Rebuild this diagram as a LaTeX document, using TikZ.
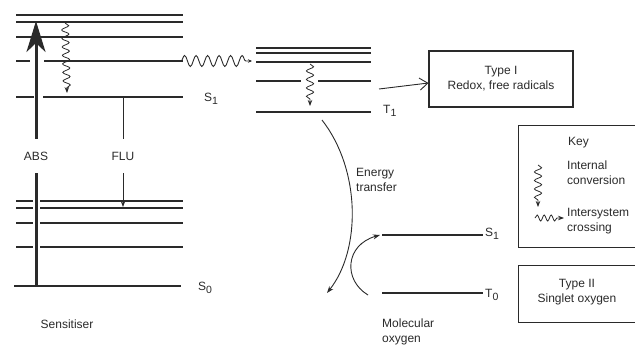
\documentclass[tikz,border=0pt]{standalone}
\usepackage{fontspec}
\setmainfont{Liberation Sans}
\usetikzlibrary{arrows.meta,decorations.pathmorphing}
\definecolor{ink}{HTML}{2A2A2A}
\newcommand{\lowsub}[1]{\raisebox{-3.5pt}{\fontsize{10.5}{10.5}\selectfont #1}}
\tikzset{
  level/.style={draw=ink, line width=1.1pt},
  lbl/.style={inner sep=0pt, font=\fontsize{12}{15}\selectfont, text=ink},
  ictip/.style={-{Stealth[length=6pt,width=4.5pt]}},
  icwave/.style={draw=ink, line width=0.8pt, decorate,
    decoration={snake, amplitude=3.6pt, segment length=8.5pt, post length=5pt}},
  iscwave/.style={draw=ink, line width=0.9pt, decorate,
    decoration={snake, amplitude=5.5pt, segment length=11.5pt, post length=6pt}},
  conn/.style={draw=ink, line width=0.9pt},
  boxed/.style={draw=ink, line width=1.1pt, inner sep=0pt, align=center,
    font=\fontsize{12}{15}\selectfont, text=ink}
}
\begin{document}
\begin{tikzpicture}[x=1pt,y=-1pt]
\useasboundingbox (0,0) rectangle (635,346);
\clip (0,0) rectangle (635,346);

% ---- Sensitiser levels ----
\draw[level] (16,15) -- (183,15);
\draw[level] (16,22) -- (183,22);
\draw[level] (16,37) -- (183,37);
\draw[level] (16,61) -- (30,61);  \draw[level] (44,61) -- (183,61);
\draw[level] (16,97) -- (34,97);  \draw[level] (43,97) -- (183,97);
\draw[level] (16,201) -- (33,201); \draw[level] (40,201) -- (183,201);
\draw[level] (16,208) -- (33,208); \draw[level] (40,208) -- (183,208);
\draw[level] (16,223) -- (33,223); \draw[level] (40,223) -- (183,223);
\draw[level] (16,247) -- (33,247); \draw[level] (40,247) -- (183,247);
\draw[level] (14,286) -- (181,286);

% ---- Triplet levels of sensitiser ----
\draw[level] (256,48) -- (371,48);
\draw[level] (256,53) -- (371,53);
\draw[level] (256,62) -- (371,62);
\draw[level] (256,81) -- (301,81); \draw[level] (318,81) -- (371,81);
\draw[level] (256,112) -- (371,112);

% ---- Oxygen levels ----
\draw[level] (382,235) -- (483,235);
\draw[level] (382,293) -- (483,293);

% ---- Labels ----
\node[lbl, anchor=west] (s1) at (204,99) {S\lowsub{1}};
\node[lbl, anchor=west] (t1) at (383,111) {T\lowsub{1}};
\node[lbl, anchor=west] (s0) at (198,288) {S\lowsub{0}};
\node[lbl, anchor=west] (os1) at (485,234) {S\lowsub{1}};
\node[lbl, anchor=west] (ot0) at (485,295) {T\lowsub{0}};
\node[lbl] (sens) at (67,324) {Sensitiser};
\node[lbl, anchor=west, align=left] (et) at (356,180) {Energy\\transfer};
\node[lbl, anchor=west, align=left] (mo) at (382,332) {Molecular\\oxygen};

% ---- ABS ----
\coordinate (absbot) at (36,286);
\coordinate (abstop) at (36,21);
\node[lbl, inner ysep=13pt, inner xsep=0pt] (abs) at (36,156) {ABS};
\draw[draw=ink, line width=3pt] (absbot) -- (abs.south);
\draw[draw=ink, line width=3pt, -{Stealth[length=31pt,width=19pt,inset=9pt]}] (abs.north) -- (abstop);

% ---- FLU ----
\coordinate (flutop) at (123,97);
\coordinate (flubot) at (123,207);
\node[lbl, inner ysep=13pt, inner xsep=0pt] (flu) at (123,156) {FLU};
\draw[conn] (flutop) -- (flu.north);
\draw[conn, ictip] (flu.south) -- (flubot);

% ---- internal conversion (sensitiser S) ----
\coordinate (ic1a) at (65,23);
\coordinate (ic1b) at (67,93);
\draw[icwave, ictip] (ic1a) -- (ic1b);

% ---- internal conversion (triplet) ----
\coordinate (ic2a) at (310,64);
\coordinate (ic2b) at (310,106);
\draw[icwave, ictip] (ic2a) -- (ic2b);

% ---- intersystem crossing ----
\coordinate (isca) at (181,61);
\coordinate (iscb) at (252,61);
\draw[iscwave, -{Stealth[length=4pt,width=3.5pt]}] (isca) -- (iscb);

% ---- Type I ----
\node[boxed, minimum width=144pt, minimum height=56pt] (type1) at (501,79) {Type I\\Redox, free radicals};
\coordinate (t1arr) at (379,89);
\draw[conn, -{Straight Barb[length=8pt,width=12pt]}] (t1arr) -- (type1.west |- 0,83) ;

% ---- Energy transfer curve ----
\coordinate (eta) at (322,120);
\coordinate (etb) at (327,293);
\draw[conn, -{Stealth[length=7pt,width=5pt]}] (eta) .. controls (361,170) and (361,250) .. (etb);

% ---- Oxygen excitation curve ----
\coordinate (oxa) at (368,295);
\coordinate (oxb) at (380,235);
\draw[conn, -{Stealth[length=7pt,width=5pt]}] (oxa) .. controls (343,280) and (345,245) .. (oxb);

% ---- Key box ----
\node[boxed, anchor=north west, minimum width=140pt, minimum height=122pt] (key) at (518,125) {};
\node[lbl, anchor=west] (keyt) at (568,143) {Key};
\node[lbl, anchor=west, align=left] (keyic) at (567,172.5) {Internal\\conversion};
\node[lbl, anchor=west, align=left] (keyisc) at (567,221) {Intersystem\\crossing};
\coordinate (kica) at (538,165);
\coordinate (kicb) at (538,207);
\draw[icwave, ictip] (kica) -- (kicb);
\coordinate (kisca) at (535,218);
\coordinate (kiscb) at (564,218);
\draw[draw=ink, line width=0.8pt, decorate,
  decoration={snake, amplitude=3pt, segment length=7pt, post length=7pt},
  -{Stealth[length=6pt,width=4.5pt]}] (kisca) -- (kiscb);

% ---- Type II ----
\node[boxed, anchor=north west, minimum width=140pt, minimum height=57pt] (type2) at (518,265) {};
\node[lbl, align=center] (type2t) at (577,292.5) {Type II\\Singlet oxygen};
\end{tikzpicture}
\end{document}
